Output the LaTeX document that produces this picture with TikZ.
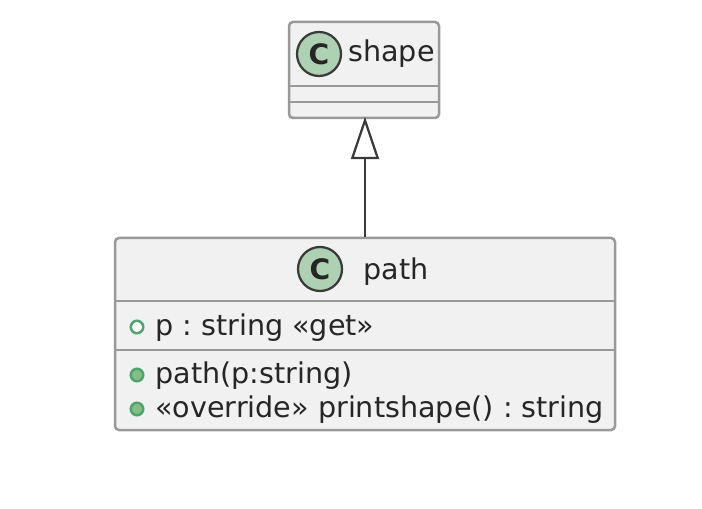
\documentclass[tikz,border=0pt]{standalone}
\usepackage{fontspec}
\setmainfont{DejaVu Sans}
\usetikzlibrary{arrows.meta}
\frenchspacing
\definecolor{boxfill}{HTML}{F1F1F1}
\definecolor{boxline}{HTML}{999999}
\definecolor{spotfill}{HTML}{ADD1B2}
\definecolor{linkline}{HTML}{3A3A3A}
\definecolor{markline}{HTML}{4FA36F}
\definecolor{markfill}{HTML}{84BE84}
\tikzset{
    classbox/.style={draw=boxline, fill=boxfill, line width=0.05cm, rounded corners=0.08cm, inner sep=0pt},
    divider/.style={draw=boxline, line width=0.05cm},
    spot/.style={circle, draw=linkline, fill=spotfill, line width=0.045cm, minimum size=0.88cm, inner sep=0pt, text=black!85, font=\fontsize{16}{18}\selectfont\bfseries},
    member/.style={anchor=base west, inner sep=0pt, text=black!85, font=\fontsize{16.27}{19}\selectfont},
    markopen/.style={circle, draw=markline, line width=0.05cm, fill=white, minimum size=0.25cm, inner sep=0pt},
    markdot/.style={markopen, fill=markfill},
    extends/.style={draw=linkline, line width=0.045cm, shorten >=-0.05cm, -{Triangle[open, fill=white, length=0.85cm, width=0.56cm]}}
}
\begin{document}
\begin{tikzpicture}
    \useasboundingbox (0, 0) rectangle (14.04, 10.16);

    % parent class
    \node[classbox, minimum width=3cm, minimum height=1.92cm] (shapebox) at (7.28, 8.76) {};
    \draw[divider] (5.78, 8.44) -- (8.78, 8.44);
    \draw[divider] (5.78, 8.12) -- (8.78, 8.12);
    \node[spot] (shapespot) at (6.38, 9.08) {C};
    \node[member] (shapename) at (6.96, 8.92) {shape};

    % child class
    \node[classbox, minimum width=10cm, minimum height=3.84cm] (pathbox) at (7.3, 3.48) {};
    \draw[divider] (2.3, 4.14) -- (12.3, 4.14);
    \draw[divider] (2.3, 3.16) -- (12.3, 3.16);
    \node[spot] (pathspot) at (6.4, 4.78) {C};
    \node[member] (pathname) at (7.26, 4.58) {path};

    \node[markopen] (fieldmark) at (2.74, 3.62) {};
    \node[member] (fieldtext) at (3.1, 3.46) {p : string «get»};
    \node[markdot] (ctormark) at (2.74, 2.66) {};
    \node[member] (ctortext) at (3.1, 2.5) {path(p:string)};
    \node[markdot] (printmark) at (2.74, 1.98) {};
    \node[member] (printtext) at (3.1, 1.82) {«override» printshape() : string};

    \draw[extends] (pathbox.north) -- (pathbox.north |- shapebox.south);
\end{tikzpicture}
\end{document}
